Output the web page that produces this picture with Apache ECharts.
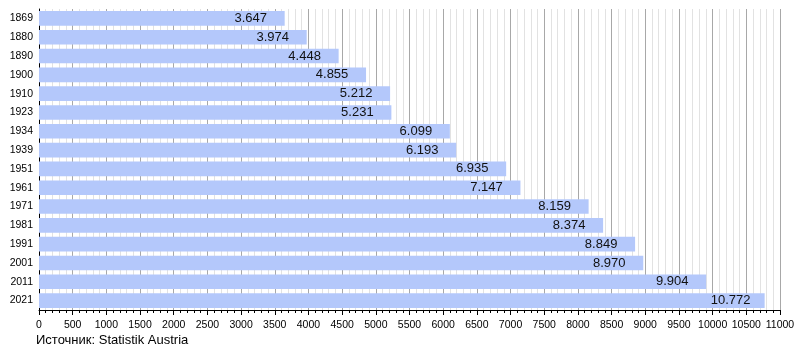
<!DOCTYPE html>
<html>
<head>
<meta charset="utf-8">
<script src="https://cdn.jsdelivr.net/npm/echarts@6/dist/echarts.min.js"></script>
<style>
  html, body { margin: 0; padding: 0; background: #fff; }
  #chart { width: 800px; height: 350px; }
</style>
</head>
<body>
<div id="chart"></div>
<script>
// Population of Austria by census year (thousands)
const years = ['1869', '1880', '1890', '1900', '1910', '1923', '1934', '1939',
               '1951', '1961', '1971', '1981', '1991', '2001', '2011', '2021'];
const population = [3647, 3974, 4448, 4855, 5212, 5231, 6099, 6193,
                    6935, 7147, 8159, 8374, 8849, 8970, 9904, 10772];
const sourceNote = 'Источник: Statistik Austria';

const fontFamily = '"Liberation Sans", Arial, sans-serif';

function dotted(v) {
  return String(v).replace(/\B(?=(\d{3})+(?!\d))/g, '.');
}

const chart = echarts.init(document.getElementById('chart'));
chart.setOption({
  animation: false,
  textStyle: { fontFamily: fontFamily },
  grid: { left: 39, right: 20, top: 9, bottom: 40, containLabel: false },
  xAxis: {
    type: 'value',
    min: 0,
    max: 11000,
    interval: 500,
    axisLine: { show: true, lineStyle: { color: '#000', width: 1 } },
    axisTick: { show: true, length: 5, lineStyle: { color: '#000' } },
    minorTick: { show: true, splitNumber: 5, length: 3, lineStyle: { color: '#000' } },
    splitLine: { show: true, lineStyle: { color: '#a8a8a8', width: 1 } },
    minorSplitLine: { show: true, lineStyle: { color: '#e2e2e2', width: 1 } },
    axisLabel: {
      color: '#000', fontSize: 10.5, margin: 10, fontFamily: fontFamily,
      formatter: v => String(v)
    }
  },
  yAxis: {
    type: 'category',
    inverse: true,
    data: years,
    axisLine: { show: true, lineStyle: { color: '#000', width: 1 } },
    axisTick: { show: false },
    axisLabel: { color: '#000', fontSize: 10.5, margin: 6, fontFamily: fontFamily }
  },
  series: [{
    type: 'bar',
    data: population,
    barCategoryGap: '22%',
    itemStyle: { color: '#b4c8fb' },
    label: {
      show: true,
      position: 'insideRight',
      distance: 34,
      align: 'center',
      color: '#111',
      fontSize: 13,
      fontFamily: fontFamily,
      formatter: p => dotted(p.value)
    }
  }],
  graphic: [{
    type: 'text',
    left: 36,
    top: 334,
    style: { text: sourceNote, fill: '#000', fontSize: 13, fontFamily: fontFamily }
  }]
});
</script>
</body>
</html>
